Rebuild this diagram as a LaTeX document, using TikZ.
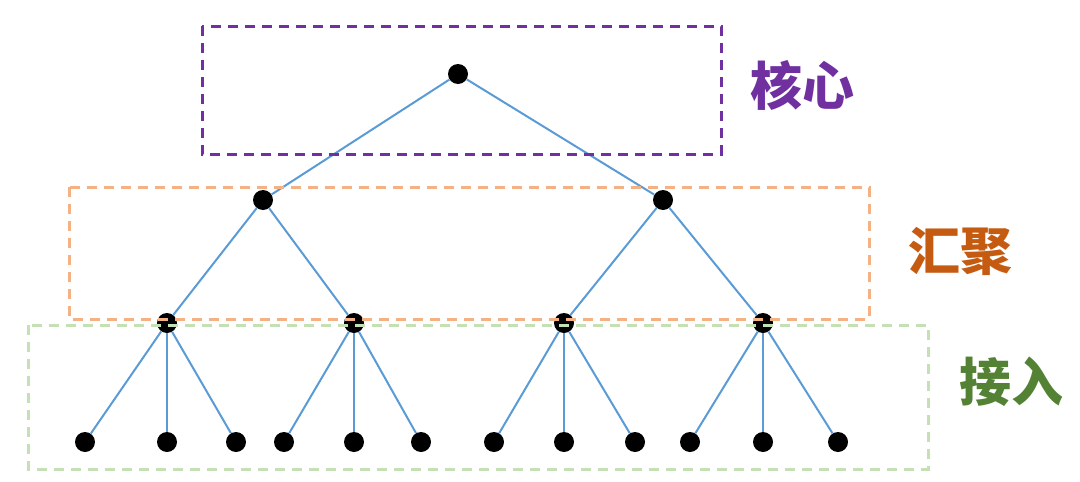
\documentclass[tikz,border=0pt]{standalone}
\usepackage{fontspec}
\newfontfamily\cjk{Noto Sans CJK SC}
\definecolor{linkblue}{HTML}{5B9BD5}
\definecolor{corepurple}{HTML}{7030A0}
\definecolor{aggbox}{HTML}{F4B183}
\definecolor{aggtext}{HTML}{C55A11}
\definecolor{accbox}{HTML}{C5E0B4}
\definecolor{acctext}{HTML}{548235}
\tikzset{
  dot/.style={circle,fill=black,inner sep=0pt,minimum size=20pt},
  link/.style={draw=linkblue,line width=2pt},
  layerbox/.style={line width=3pt,dash pattern=on 10pt off 7pt},
  layerlabel/.style={font=\cjk\bfseries\fontsize{52}{56}\selectfont,inner sep=0pt}
}
\begin{document}
\begin{tikzpicture}[x=1pt,y=-1pt]
\useasboundingbox (0,0) rectangle (1080,482);
% nodes
\node[dot] (r) at (458,74) {};
\node[dot] (a1) at (263,200) {};
\node[dot] (a2) at (663,200) {};
\node[dot] (b1) at (167,323) {};
\node[dot] (b2) at (354,323) {};
\node[dot] (b3) at (564,323) {};
\node[dot] (b4) at (763,323) {};
\foreach \n/\x in {1/85,2/167,3/236,4/284,5/354,6/421,7/494,8/564,9/635,10/690,11/763,12/838}
  \node[dot] (l\n) at (\x,442) {};
% connectors
\draw[link] (r) -- (a1);
\draw[link] (r) -- (a2);
\draw[link] (a1) -- (b1);
\draw[link] (a1) -- (b2);
\draw[link] (a2) -- (b3);
\draw[link] (a2) -- (b4);
\foreach \b/\i/\j/\k in {b1/1/2/3,b2/4/5/6,b3/7/8/9,b4/10/11/12}{
  \draw[link] (\b) -- (l\i);
  \draw[link] (\b) -- (l\j);
  \draw[link] (\b) -- (l\k);
}
% layer boxes
\draw[layerbox,draw=corepurple] (202,26) rectangle (721,154);
\draw[layerbox,draw=aggbox] (69,187) rectangle (869,319);
\draw[layerbox,draw=accbox] (28,325) rectangle (928,469);
% labels
\node[layerlabel,text=corepurple] (t1) at (802,85) {核心};
\node[layerlabel,text=aggtext] (t2) at (960,251) {汇聚};
\node[layerlabel,text=acctext] (t3) at (1011,382) {接入};
\end{tikzpicture}
\end{document}
